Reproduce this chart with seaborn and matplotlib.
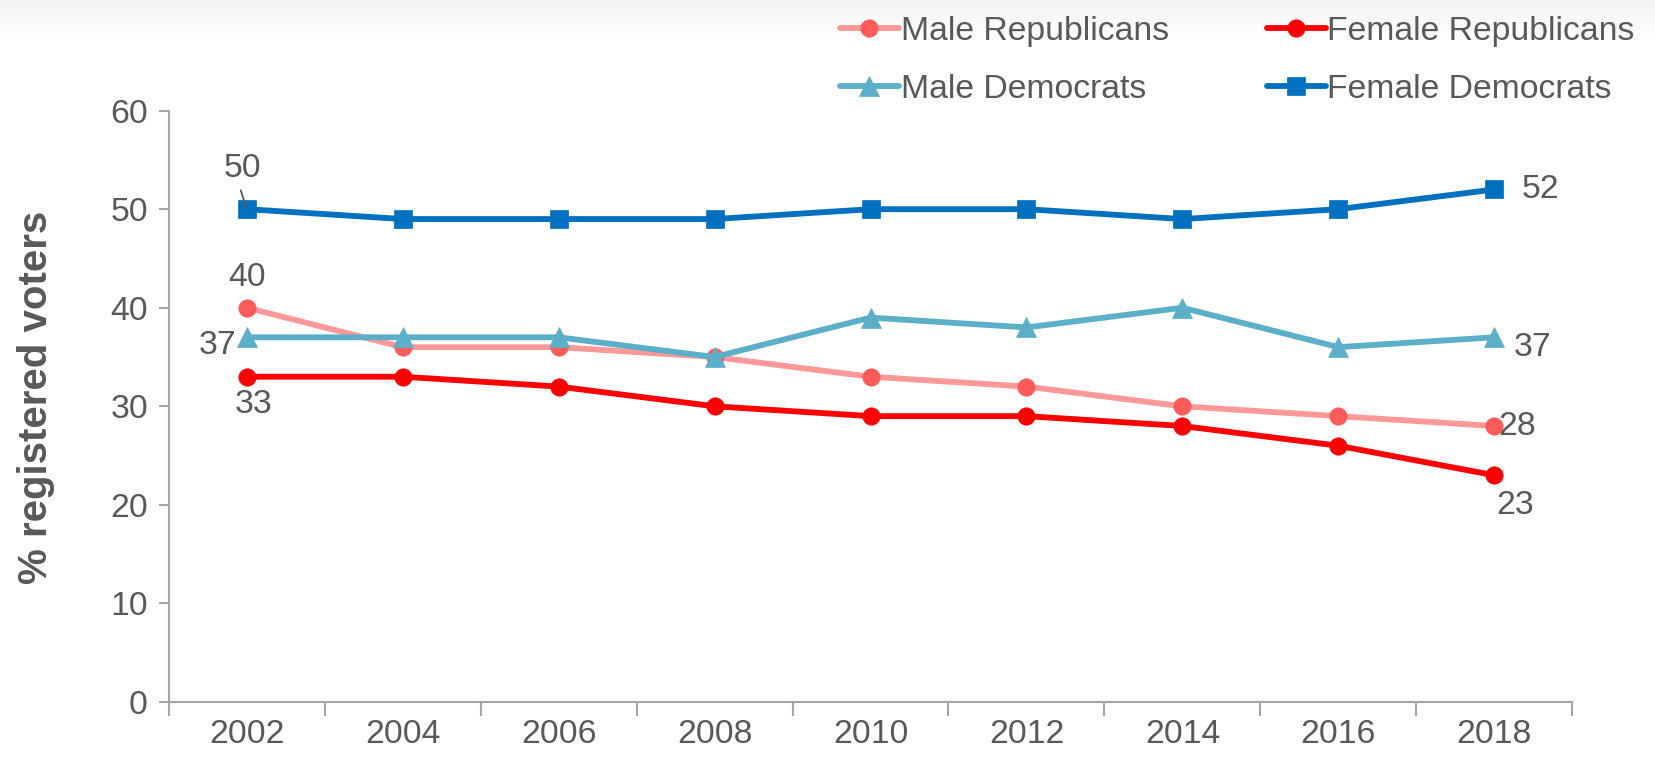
import numpy as np
import pandas as pd
import matplotlib
matplotlib.use("Agg")
import matplotlib.pyplot as plt
from matplotlib.ticker import FixedLocator, MultipleLocator
import seaborn as sns

# Share of registered voters by party and gender
years = ["2002", "2004", "2006", "2008", "2010", "2012", "2014", "2016", "2018"]
male_republicans = [40, 36, 36, 35, 33, 32, 30, 29, 28]
female_republicans = [33, 33, 32, 30, 29, 29, 28, 26, 23]
male_democrats = [37, 37, 37, 35, 39, 38, 40, 36, 37]
female_democrats = [50, 49, 49, 49, 50, 50, 49, 50, 52]

sns.set_theme(style="white")
plt.rcParams["font.family"] = ["Liberation Sans", "DejaVu Sans"]

TEXT = "#595959"
AXIS = "#A6A6A6"
FS = 24.3

fig = plt.figure(figsize=(16.55, 7.63), dpi=100)

# faint gray band along the top edge
bg = fig.add_axes([0, 0, 1, 1], zorder=-10)
grad = np.ones((763, 2, 3))
band = np.clip(np.arange(763) / 40.0, 0, 1)
shade = 0.955 + 0.045 * band
grad[:] = shade[:, None, None]
bg.imshow(grad, aspect="auto", extent=[0, 1, 0, 1], origin="upper")
bg.set_axis_off()

ax = fig.add_axes([0.102, 0.080, 0.848, 0.775])
ax.patch.set_alpha(0)

x = np.arange(len(years))
series = [
    ("Male Republicans", male_republicans, "#FF9999", "#FF5B5B", "o", 12.5),
    ("Female Republicans", female_republicans, "#FF0000", "#FF0000", "o", 12.5),
    ("Male Democrats", male_democrats, "#5BAFC8", "#5BAFC8", "^", 14.5),
    ("Female Democrats", female_democrats, "#0070C0", "#0070C0", "s", 13.5),
]
for name, vals, lc, mc, mk, ms in series:
    df = pd.DataFrame({"x": x, "y": vals})
    sns.lineplot(data=df, x="x", y="y", ax=ax, color=lc, linewidth=4.2,
                 marker=mk, markersize=ms, markerfacecolor=mc,
                 markeredgecolor=mc, markeredgewidth=0.5, label=name,
                 legend=False)

ax.set_xlim(-0.5, len(years) - 0.5)
ax.set_ylim(0, 60)
ax.yaxis.set_major_locator(MultipleLocator(10))
ax.set_xticks(x)
ax.set_xticklabels(years)
ax.xaxis.set_minor_locator(FixedLocator(np.arange(-0.5, len(years), 1.0)))
ax.tick_params(axis="x", which="major", length=0, pad=12, labelsize=FS,
               labelcolor=TEXT)
ax.tick_params(axis="x", which="minor", length=10, width=1.5, color=AXIS,
               direction="out", bottom=True)
ax.tick_params(axis="y", which="major", length=7, width=1.5, color=AXIS,
               direction="out", left=True, pad=8, labelsize=FS,
               labelcolor=TEXT)
ax.set_xlabel("")
ax.set_ylabel("% registered voters", fontsize=29, fontweight="bold",
              color=TEXT)
ax.yaxis.set_label_coords(-0.081, 0.515)
for side in ["top", "right"]:
    ax.spines[side].set_visible(False)
for side in ["left", "bottom"]:
    ax.spines[side].set_color(AXIS)
    ax.spines[side].set_linewidth(1.5)

# first and last values of each series
def lab(i, v, dx, dy, ha="center", va="center"):
    ax.annotate(str(v), xy=(x[i], v), xytext=(dx, dy),
                textcoords="offset points", ha=ha, va=va, fontsize=FS,
                color=TEXT)

last = len(years) - 1
ax.annotate(str(female_democrats[0]), xy=(x[0], female_democrats[0]),
            xytext=(-3, 29), textcoords="offset points", ha="center",
            va="center", fontsize=FS, color=TEXT,
            arrowprops=dict(arrowstyle="-", color=TEXT, lw=1.3,
                            relpos=(0.4, 0.0), shrinkA=2, shrinkB=1))
lab(0, male_republicans[0], 0, 22)
lab(0, male_democrats[0], -21, -6)
lab(0, female_republicans[0], 5, -20)
lab(last, female_democrats[last], 20, 0, ha="left")
lab(last, male_democrats[last], 14, -7, ha="left")
lab(last, male_republicans[last], 3, 0, ha="left")
lab(last, female_republicans[last], 15, -22)

# legend filled row by row: Republicans on top, Democrats below
handles, labels = ax.get_legend_handles_labels()
order = [0, 2, 1, 3]
fig.legend([handles[i] for i in order], [labels[i] for i in order],
           loc="upper right", bbox_to_anchor=(1.002, 1.010),
           ncol=2, frameon=False, fontsize=FS, labelcolor=TEXT,
           handlelength=1.75, handletextpad=0.05, columnspacing=2.9,
           labelspacing=0.8, borderaxespad=0.3)

fig.savefig("out.png", dpi=100)
